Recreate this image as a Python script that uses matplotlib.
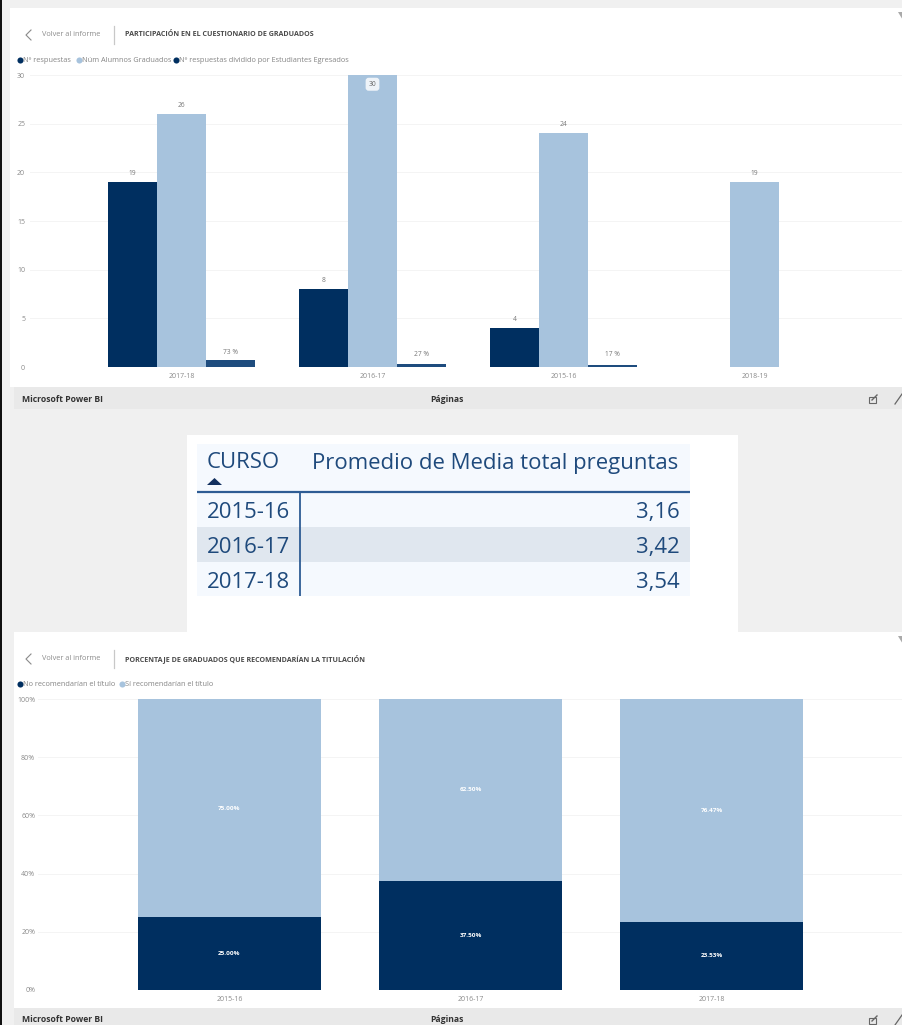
import matplotlib
matplotlib.use("Agg")
import matplotlib.pyplot as plt
from matplotlib.patches import Rectangle, Polygon

plt.rcParams['font.family'] = ['Open Sans', 'DejaVu Sans']

# ---- data ----
courses_top = ["2017-18", "2016-17", "2015-16", "2018-19"]
respuestas = [19, 8, 4, None]
graduados = [26, 30, 24, 19]
ratio = [0.73, 0.27, 0.17, None]
ratio_labels = ["73 %", "27 %", "17 %", None]
yticks_top = [0, 5, 10, 15, 20, 25, 30]

table_courses = ["2015-16", "2016-17", "2017-18"]
table_values = ["3,16", "3,42", "3,54"]

courses_bot = ["2015-16", "2016-17", "2017-18"]
no_rec = [25.00, 37.50, 23.53]
si_rec = [75.00, 62.50, 76.47]
yticks_bot = [0, 20, 40, 60, 80, 100]

DARK = "#002F60"
LIGHT = "#A7C3DD"
MID = "#1E4C7E"
TXT = "#8a8a8a"
W, H = 903, 1025

fig = plt.figure(figsize=(W / 100, H / 100), dpi=100, facecolor="#F0F0F0")
bg = fig.add_axes([0, 0, 1, 1], zorder=0)
bg.set_xlim(0, W); bg.set_ylim(H, 0); bg.axis("off")


def rect(x0, y0, x1, y1, c, z=1):
    bg.add_patch(Rectangle((x0, y0), x1 - x0, y1 - y0, fc=c, ec="none", zorder=z))


def pane_axes(x0, y_top, x1, y_bot):
    return fig.add_axes([x0 / W, 1 - y_bot / H, (x1 - x0) / W, (y_bot - y_top) / H],
                        zorder=2, facecolor="none")


def chrome(left, top, bot, title, legend):
    rect(left, top, W, bot, "white")
    rect(14, bot, W, bot + 22, "#E9E9E9")
    y = top + 27
    bg.plot([31, 26, 31], [y - 5, y, y + 5], color="#8a8a8a", lw=0.8, zorder=3)
    bg.text(42, y, "Volver al informe", fontsize=5.35, color="#8c8c8c", va="center", zorder=3)
    bg.plot([114.5, 114.5], [y - 9, y + 9], color="#c8c8c8", lw=0.9, zorder=3)
    bg.text(125, y - 0.5, title, fontsize=5.1, color="#4a4a4a", va="center", weight="bold", zorder=3)
    y = top + 52
    for x, c, label in legend:
        bg.plot([x], [y], "o", ms=4.4, color=c, mec="none", zorder=3)
        bg.text(x + 3, y, label, fontsize=5.3, color="#858585", va="center", zorder=3)
    fy = bot + 12
    bg.text(22, fy, "Microsoft Power BI", fontsize=6.2, color="#333333", va="center", weight="bold", zorder=3)
    bg.text(447, fy, "Páginas", fontsize=6.2, color="#333333", va="center", ha="center", weight="bold", zorder=3)
    # share + expand icons
    bg.add_patch(Rectangle((869, fy - 2), 7, 6, fc="none", ec="#666666", lw=0.8, zorder=3))
    bg.plot([872, 877], [fy + 1, fy - 4], color="#666666", lw=1.0, zorder=3)
    bg.plot([895, 902], [fy + 5, fy - 5], color="#666666", lw=0.9, zorder=3)
    # filter icon
    bg.add_patch(Polygon([[898, top + 4], [903, top + 4], [903, top + 12], [901, top + 9]],
                         fc="#aaaaaa", ec="none", zorder=3))


rect(0, 0, 2, H, "#111111", 5)
chrome(10, 8, 387, "PARTICIPACIÓN EN EL CUESTIONARIO DE GRADUADOS",
       [(20, DARK, "Nº respuestas"), (79, LIGHT, "Núm Alumnos Graduados"), (176, DARK, "Nº respuestas dividido por Estudiantes Egresados")])
chrome(14, 632, 1008, "PORCENTAJE DE GRADUADOS QUE RECOMENDARÍAN LA TITULACIÓN",
       [(20, DARK, "No recomendarían el título"), (122, LIGHT, "Sí recomendarían el título")])

# ---- top chart ----
ax = pane_axes(30, 75, W, 367)
step = 191.0
ax.set_xlim((30 - 181.5) / step, (W - 181.5) / step)
ax.set_ylim(0, 30)
bw = 49 / step
for i, c in enumerate(courses_top):
    if respuestas[i] is not None:
        ax.bar(i - bw, respuestas[i], bw, color=DARK, zorder=3)
        ax.text(i - bw, respuestas[i] + 0.55, str(respuestas[i]), ha="center", va="bottom", fontsize=4.8, color="#777777")
    ax.bar(i, graduados[i], bw, color=LIGHT, zorder=3)
    if graduados[i] >= 30:
        ax.text(i, graduados[i] - 0.95, str(graduados[i]), ha="center", va="center", fontsize=4.8, color="#666666", zorder=5,
                bbox=dict(boxstyle="round,pad=0.45", fc="#EEF3F8", ec="none"))
    else:
        ax.text(i, graduados[i] + 0.55, str(graduados[i]), ha="center", va="bottom", fontsize=4.8, color="#777777")
    if ratio[i] is not None:
        ax.bar(i + bw, ratio[i], bw, color=MID, zorder=3)
        ax.text(i + bw, max(ratio[i], 0.5) + 0.4, ratio_labels[i], ha="center", va="bottom", fontsize=4.8, color="#777777")
ax.set_xticks(range(len(courses_top)), courses_top)
ax.set_yticks(yticks_top, [str(v) for v in yticks_top])
ax.set_ylim(0, 30)

# ---- bottom chart ----
ax2 = pane_axes(38, 699, W, 990)
step2 = 241.0
ax2.set_xlim((38 - 229.5) / step2, (W - 229.5) / step2)
ax2.set_ylim(0, 100)
bw2 = 183 / step2
for i, c in enumerate(courses_bot):
    ax2.bar(i, no_rec[i], bw2, color=DARK, zorder=3)
    ax2.bar(i, si_rec[i], bw2, bottom=no_rec[i], color=LIGHT, zorder=3)
    ax2.text(i, no_rec[i] / 2, f"{no_rec[i]:.2f}%", ha="center", va="center", fontsize=4.6, color="white", weight="bold", zorder=4)
    ax2.text(i, no_rec[i] + si_rec[i] / 2, f"{si_rec[i]:.2f}%", ha="center", va="center", fontsize=4.6, color="white", weight="bold", zorder=4)
ax2.set_xticks(range(len(courses_bot)), courses_bot)
ax2.set_yticks(yticks_bot, [f"{v}%" for v in yticks_bot])
ax2.set_ylim(0, 100)

for a, pad in ((ax, 3.5), (ax2, 2.0)):
    for s in a.spines.values():
        s.set_visible(False)
    a.grid(axis="y", color="#F4F4F4", lw=0.7, zorder=0)
    a.set_axisbelow(True)
    a.tick_params(axis="both", length=0, labelsize=5.0, labelcolor=TXT)
    a.tick_params(axis="x", pad=4)
    a.tick_params(axis="y", pad=pad)

# ---- table ----
rect(187, 435, 738, 632, "white")
rect(197, 444, 690, 596, "#F5F9FE", 2)
rect(197, 527, 690, 562, "#E0E7EF", 3)
TAB = "#1F4A7C"
FS = 15.9
bg.plot([197, 690], [492, 492], color="#2E5C94", lw=1.6, zorder=4, solid_capstyle="butt")
bg.plot([300.5, 300.5], [492, 596], color="#2E5C94", lw=1.3, zorder=4, solid_capstyle="butt")
bg.text(207, 463, "CURSO", fontsize=FS, color=TAB, va="center", zorder=5)
bg.text(678, 463, "Promedio de Media total preguntas", fontsize=FS, color=TAB, va="center", ha="right", zorder=5)
bg.add_patch(Polygon([[207, 485], [222, 485], [214.5, 478]], fc="#12305F", ec="none", zorder=5))
for i, (c, v) in enumerate(zip(table_courses, table_values)):
    y = 512.5 + i * 35
    bg.text(207, y, c, fontsize=FS, color=TAB, va="center", zorder=5)
    bg.text(680, y, v, fontsize=FS, color=TAB, va="center", ha="right", zorder=5)

fig.savefig("out.png", dpi=100, facecolor=fig.get_facecolor())
